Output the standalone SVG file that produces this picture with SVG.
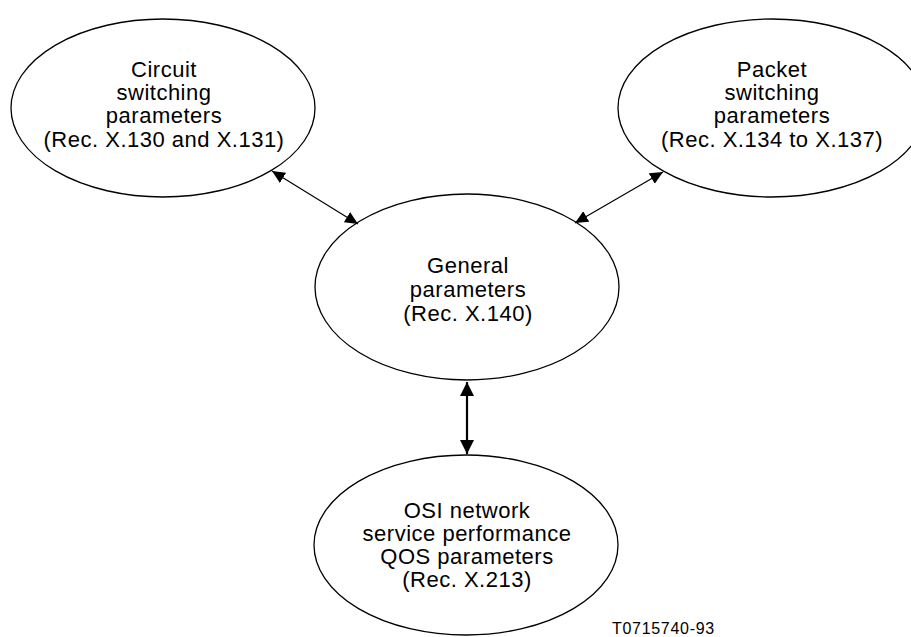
<svg xmlns="http://www.w3.org/2000/svg" width="911" height="637" viewBox="0 0 911 637">
<style>
.node ellipse{fill:#fff;stroke:#000;stroke-width:1.3}
.lbl{font-family:"Liberation Sans",Arial,sans-serif;font-size:22px;letter-spacing:0.5px;text-anchor:middle;fill:#000}
.tag{font-family:"Liberation Sans",Arial,sans-serif;font-size:16px;letter-spacing:0.7px;fill:#000}
.thin{stroke:#000;stroke-width:1.2;fill:none}
.thick{stroke:#000;stroke-width:2.2;fill:none}
</style>
<defs>
<marker id="ah" markerUnits="userSpaceOnUse" markerWidth="14" markerHeight="13" refX="13" refY="6" orient="auto-start-reverse">
<path d="M0,0 L13,6 L0,12 z" fill="#000"/>
</marker>
<marker id="ahb" markerUnits="userSpaceOnUse" markerWidth="15" markerHeight="14" refX="14" refY="7" orient="auto-start-reverse">
<path d="M0,0 L14,7 L0,14 z" fill="#000"/>
</marker>
</defs>
<rect width="911" height="637" fill="#fff"/>
<g id="circuit" class="node">
<ellipse cx="163" cy="108" rx="152" ry="89"/>
<text class="lbl" x="164" y="77">Circuit</text>
<text class="lbl" x="164" y="100">switching</text>
<text class="lbl" x="164" y="123">parameters</text>
<text class="lbl" x="164" y="147">(Rec. X.130 and X.131)</text>
</g>
<g id="packet" class="node">
<ellipse cx="772" cy="108" rx="154" ry="89"/>
<text class="lbl" x="772" y="77">Packet</text>
<text class="lbl" x="772" y="100">switching</text>
<text class="lbl" x="772" y="123">parameters</text>
<text class="lbl" x="772" y="147">(Rec. X.134 to X.137)</text>
</g>
<g id="general" class="node">
<ellipse cx="467" cy="287" rx="152" ry="93"/>
<text class="lbl" x="468" y="273">General</text>
<text class="lbl" x="468" y="297">parameters</text>
<text class="lbl" x="468" y="321">(Rec. X.140)</text>
</g>
<g id="osi" class="node">
<ellipse cx="466" cy="545" rx="152" ry="90"/>
<text class="lbl" x="467" y="518">OSI network</text>
<text class="lbl" x="467" y="541">service performance</text>
<text class="lbl" x="467" y="564">QOS parameters</text>
<text class="lbl" x="467" y="587">(Rec. X.213)</text>
</g>
<g id="connectors">
<line class="thin" x1="272" y1="171" x2="358" y2="224" marker-start="url(#ah)" marker-end="url(#ah)"/>
<line class="thin" x1="663" y1="172" x2="575" y2="223" marker-start="url(#ah)" marker-end="url(#ah)"/>
<line class="thick" x1="467" y1="382" x2="467" y2="454" marker-start="url(#ahb)" marker-end="url(#ahb)"/>
</g>
<text class="tag" x="612" y="634">T0715740-93</text>
</svg>
